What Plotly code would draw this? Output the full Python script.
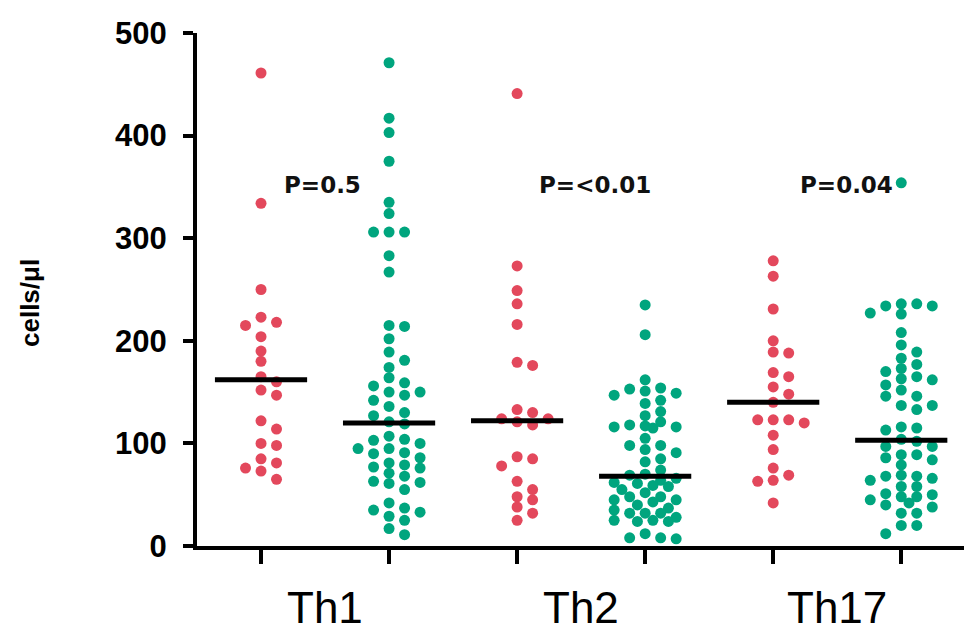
import plotly.graph_objects as go
import numpy as np

# ---------------- data ----------------
categories = ["Th1", "Th2", "Th17"]
p_labels = ["P=0.5", "P=<0.01", "P=0.04"]

th1_red = [461, 334, 250, 223, 218, 215, 204, 190, 180, 165, 160, 152, 147, 122, 114,
           100, 98, 85, 81, 76, 73, 65]
th1_green = [471, 417, 403, 375, 335, 324, 306, 306, 306, 283, 267,
             215, 214, 202, 189, 181, 174, 164, 159, 156, 150, 150, 147, 142, 136, 130, 127,
             121, 119,
             107, 104, 103, 100, 95, 95, 91, 90, 86, 81, 79, 77, 76, 71, 68, 63, 62, 61,
             55, 42, 37, 35, 33, 29, 25, 17, 11]
th2_red = [441, 273, 249, 236, 216, 179, 176, 133, 130, 124, 124, 121, 118, 87, 85, 78,
           63, 55, 48, 45, 38, 32, 25]
th2_green = [235, 206, 162, 154, 153, 151, 149, 147, 142, 139, 131, 127, 121, 118, 117, 116,
             116, 115, 105, 98, 98, 94, 91, 85, 82, 74, 70, 69, 66, 64, 62, 61, 59, 58, 55,
             52, 48, 48, 45, 45, 43, 40, 37, 35, 32, 32, 32, 28, 25, 25, 24, 24, 12, 8, 8, 7]
th17_red = [278, 263, 231, 200, 189, 188, 169, 165, 155, 148, 140, 123, 123, 123, 120, 108,
            94, 76, 69, 64, 63, 42]
th17_green = [354, 236, 236, 234, 234, 227, 226, 208, 196, 189, 183, 177, 173, 170, 165, 163,
              162, 157, 152, 146, 146, 137, 137, 133, 116, 115, 113, 104, 102, 97, 97, 89, 89,
              86, 84, 79, 69, 68, 68, 66, 64, 58, 58, 51, 50, 48, 48, 45, 42, 40, 38, 32, 32,
              20, 20, 12]
medians = [162, 120, 122, 68, 140, 103]

groups = [th1_red, th1_green, th2_red, th2_green, th17_red, th17_green]
RED = "#e3485c"
GREEN = "#00a57e"
colors = [RED, GREEN, RED, GREEN, RED, GREEN]

# ---------------- layout geometry ----------------
W, H = 964, 633
ML, MR, MT, MB = 197, 0, 33, 87
XR = [-0.5, 5.49]
YR = [0, 500]
px_per_x = (W - ML - MR) / (XR[1] - XR[0])
px_per_y = (H - MT - MB) / (YR[1] - YR[0])


def swarm(values, center, diam=10.0, step_px=15.5):
    """simple beeswarm limited to +-2 columns; returns x positions"""
    order = np.argsort(-np.asarray(values))
    placed = []
    xs = np.zeros(len(values))
    cands = [0, 1, -1, 2, -2, 0.5, -0.5, 1.5, -1.5]
    for idx in order:
        yp = values[idx] * px_per_y
        best, best_d = 0, -1
        chosen = None
        for c in cands:
            xp = c * step_px
            dmin = min([np.hypot(px - xp, py - yp) for (px, py) in placed] or [1e9])
            if dmin >= diam:
                chosen = xp
                break
            if dmin > best_d:
                best_d, best = dmin, xp
        if chosen is None:
            chosen = best
        placed.append((chosen, yp))
        xs[idx] = center + chosen / px_per_x
    return xs


fig = go.Figure()
for i, (vals, col) in enumerate(zip(groups, colors)):
    xs = swarm(vals, i)
    fig.add_trace(go.Scatter(
        x=xs, y=vals, mode="markers",
        marker=dict(color=col, size=11, symbol="circle", line=dict(width=0)),
        cliponaxis=False, showlegend=False, hoverinfo="y"))

for i, m in enumerate(medians):
    fig.add_trace(go.Scatter(
        x=[i - 0.36, i + 0.36], y=[m, m], mode="lines",
        line=dict(color="black", width=5), showlegend=False, hoverinfo="skip"))

annotations = []
for i, c in enumerate(categories):
    annotations.append(dict(
        x=2 * i + 0.5, y=-(608 - (H - MB)) / (H - MT - MB), xref="x", yref="paper",
        text=c, showarrow=False, xanchor="center", yanchor="middle",
        font=dict(family="Liberation Sans, Arial", size=44, color="black")))

p_x = [0.48, 2.61, 4.57]
for i, t in enumerate(p_labels):
    annotations.append(dict(
        x=p_x[i], y=352, xref="x", yref="y", text=t, showarrow=False,
        xanchor="center", yanchor="middle",
        font=dict(family="DejaVu Sans", size=23, color="#111111", weight="bold")))

annotations.append(dict(
    x=(30 - ML) / (W - ML - MR), y=1 - (303 - MT) / (H - MT - MB),
    xref="paper", yref="paper", text="cells/μl", textangle=-90, showarrow=False,
    xanchor="center", yanchor="middle",
    font=dict(family="Liberation Sans, Arial", size=26, color="black", weight="bold")))

fig.update_layout(
    width=W, height=H,
    margin=dict(l=ML, r=MR, t=MT, b=MB),
    paper_bgcolor="white", plot_bgcolor="white",
    annotations=annotations,
    xaxis=dict(range=XR, showgrid=False, zeroline=False, showline=True,
               linecolor="black", linewidth=4, ticks="outside", ticklen=14,
               tickwidth=4, tickcolor="black", tickvals=list(range(6)),
               ticktext=[""] * 6, showticklabels=False),
    yaxis=dict(range=YR, showgrid=False, zeroline=False, showline=True,
               linecolor="black", linewidth=4, ticks="outside", ticklen=10,
               tickwidth=4, tickcolor="black", tickvals=[0, 100, 200, 300, 400, 500],
               ticklabelstandoff=10,
               tickfont=dict(family="Liberation Sans, Arial", size=31, color="black",
                             weight="bold")),
)

fig.write_html("out.html", config={"displayModeBar": False},
               post_script="document.body.style.margin='0';document.body.style.overflow='hidden';")
